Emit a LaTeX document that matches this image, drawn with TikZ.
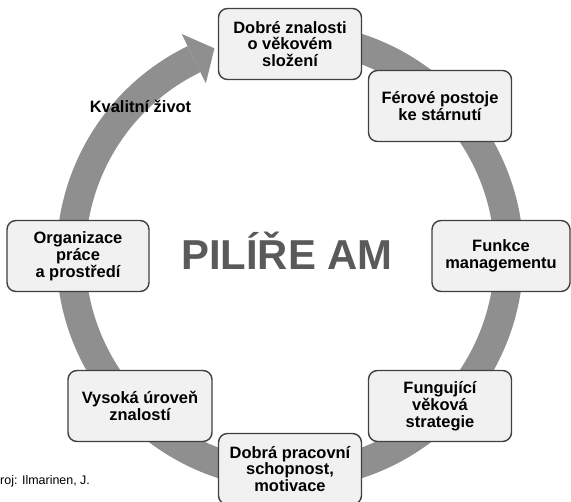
\documentclass[tikz,border=0pt]{standalone}
\usepackage{fontspec}
\setmainfont{Liberation Sans}
\usetikzlibrary{calc}
\definecolor{ringgray}{HTML}{8F8F8F}
\definecolor{boxfill}{HTML}{F1F1F1}
\definecolor{boxline}{HTML}{404040}
\definecolor{titlegray}{HTML}{5A5A5A}
\begin{document}
\begin{tikzpicture}[x=1bp,y=1bp,
  pillar/.style={draw=boxline, fill=boxfill, line width=1.4bp, rounded corners=9bp,
    minimum width=143bp, minimum height=71bp, align=center, inner sep=0pt,
    font=\fontsize{16.5}{17}\selectfont\bfseries},
  ring/.style={draw=ringgray, line width=29bp}]
\useasboundingbox (0,0) rectangle (571,502);
\clip (0,0) rectangle (571,502);
\coordinate (C) at (290,246);
% circular band with its arrow head pointing into the top pillar
\draw[ring] ($(C)+(116:219)$) arc[start angle=116, end angle=450, radius=219];
\coordinate (h1) at ($(C)+(116:247)$);
\coordinate (h2) at ($(C)+(110:221)$);
\coordinate (h3) at ($(C)+(116:192)$);
\fill[ringgray] (h1) -- (h2) -- (h3) -- cycle;
% pillars
\node[pillar] (b1) at (290,458) {Dobré znalosti\\o věkovém\\složení};
\node[pillar] (b2) at (440,396) {Férové postoje\\ke stárnutí};
\node[pillar, minimum width=138bp] (b3) at (501,246) {Funkce\\managementu};
\node[pillar] (b4) at (440,96) {Fungující\\věková\\strategie};
\node[pillar] (b5) at (290,33) {Dobrá pracovní\\schopnost,\\motivace};
\node[pillar, minimum width=144bp] (b6) at (140,96) {Vysoká úroveň\\znalostí};
\node[pillar, minimum width=142bp] (b7) at (78,246) {Organizace\\práce\\a prostředí};
% texts
\node[font=\fontsize{42}{42}\selectfont\bfseries, text=titlegray, anchor=base, inner sep=0pt]
  (title) at (287,232) {PILÍŘE AM};
\node[font=\fontsize{16.5}{17}\selectfont\bfseries, anchor=base, inner sep=0pt]
  (life) at (140.5,389) {Kvalitní život};
\node[font=\fontsize{12.5}{13}\selectfont, anchor=base west, inner sep=0pt]
  (src) at (0,17) {roj: Ilmarinen, J.};
\end{tikzpicture}
\end{document}
